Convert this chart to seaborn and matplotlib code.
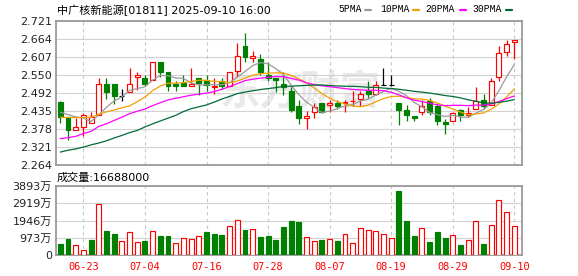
import numpy as np
import pandas as pd
import matplotlib
matplotlib.use("Agg")
import matplotlib.pyplot as plt
import seaborn as sns
from matplotlib.lines import Line2D

# ---------------- data ----------------
title = "中广核新能源[01811] 2025-09-10 16:00"
dates = [d for d in pd.bdate_range("2025-06-18", "2025-09-10")
         if d != pd.Timestamp("2025-07-01")]

opens = [2.464, 2.416, 2.375, 2.384, 2.397, 2.422, 2.521, 2.521, 2.485, 2.497,
         2.543, 2.541, 2.534, 2.591, 2.559, 2.522, 2.524, 2.514, 2.542, 2.530,
         2.513, 2.530, 2.516, 2.562, 2.642, 2.603, 2.601, 2.550, 2.542, 2.522,
         2.500, 2.453, 2.412, 2.432, 2.461, 2.455, 2.462, 2.461, 2.466, 2.473,
         2.500, 2.491, 2.520, 2.520, 2.461, 2.440, 2.421, 2.432, 2.468, 2.453,
         2.402, 2.403, 2.438, 2.422, 2.442, 2.470, 2.454, 2.543, 2.623, 2.654]
highs = [2.466, 2.416, 2.413, 2.429, 2.433, 2.540, 2.540, 2.521, 2.506, 2.572,
         2.559, 2.551, 2.591, 2.591, 2.559, 2.531, 2.550, 2.573, 2.542, 2.549,
         2.542, 2.541, 2.559, 2.652, 2.684, 2.625, 2.616, 2.590, 2.542, 2.560,
         2.512, 2.472, 2.437, 2.461, 2.461, 2.472, 2.472, 2.470, 2.499, 2.500,
         2.531, 2.531, 2.572, 2.551, 2.461, 2.454, 2.421, 2.470, 2.477, 2.461,
         2.411, 2.432, 2.443, 2.449, 2.513, 2.489, 2.540, 2.643, 2.662, 2.661]
lows = [2.397, 2.344, 2.375, 2.355, 2.397, 2.422, 2.475, 2.457, 2.467, 2.497,
        2.503, 2.514, 2.534, 2.545, 2.500, 2.500, 2.514, 2.514, 2.487, 2.500,
        2.490, 2.507, 2.516, 2.544, 2.593, 2.593, 2.549, 2.530, 2.495, 2.488,
        2.432, 2.393, 2.380, 2.412, 2.428, 2.432, 2.441, 2.432, 2.453, 2.452,
        2.477, 2.487, 2.520, 2.514, 2.392, 2.403, 2.403, 2.422, 2.422, 2.392,
        2.362, 2.403, 2.405, 2.417, 2.442, 2.443, 2.454, 2.532, 2.612, 2.602]
closes = [2.416, 2.374, 2.384, 2.422, 2.416, 2.521, 2.495, 2.485, 2.485, 2.521,
          2.550, 2.523, 2.591, 2.561, 2.514, 2.515, 2.515, 2.521, 2.526, 2.518,
          2.516, 2.514, 2.559, 2.610, 2.608, 2.610, 2.561, 2.541, 2.533, 2.513,
          2.440, 2.412, 2.421, 2.450, 2.432, 2.462, 2.453, 2.464, 2.469, 2.489,
          2.491, 2.520, 2.520, 2.520, 2.440, 2.422, 2.412, 2.451, 2.432, 2.403,
          2.394, 2.429, 2.424, 2.428, 2.469, 2.453, 2.532, 2.619, 2.650, 2.661]
volumes = [621, 941, 602, 320, 846, 2878, 1354, 1223, 828, 1336,
           771, 790, 1392, 1072, 1072, 715, 997, 903, 1110, 1298,
           1223, 1129, 1674, 1975, 1411, 1467, 1016, 1072, 865, 1580,
           1919, 1862, 1053, 828, 846, 941, 790, 1223, 715, 1561,
           1411, 1354, 1223, 997, 3612, 1919, 1072, 1561, 734, 1298,
           959, 1166, 564, 846, 1919, 621, 1693, 3104, 2426, 1668.8]  # 万

# moving-average values before enough closes are in view
ma5_head = [2.432, 2.424, 2.417, 2.413]
ma10_head = [2.416, 2.415, 2.415, 2.415, 2.416, 2.425, 2.433, 2.439, 2.446]
ma20_head = [2.348, 2.351, 2.355, 2.364, 2.371, 2.387, 2.395, 2.406, 2.416, 2.427,
             2.435, 2.442, 2.453, 2.462, 2.471, 2.476, 2.481, 2.486, 2.489]
ma30_head = [2.305, 2.311, 2.315, 2.321, 2.328, 2.334, 2.341, 2.350, 2.358, 2.367,
             2.374, 2.385, 2.395, 2.404, 2.413, 2.422, 2.434, 2.443, 2.449, 2.455,
             2.464, 2.474, 2.482, 2.491, 2.496, 2.500, 2.504, 2.507, 2.510]

price_ticks = [2.264, 2.321, 2.378, 2.435, 2.492, 2.550, 2.607, 2.664, 2.721]
vol_ticks = [0, 973, 1946, 2919, 3893]
ma_labels = ["5PMA", "10PMA", "20PMA", "30PMA"]
ma_windows = [5, 10, 20, 30]

# ---------------- style ----------------
sns.set_theme(style="white")
plt.rcParams["font.family"] = ["DejaVu Sans", "Noto Sans CJK SC"]
RED = "#ff0000"
GREEN = "#008000"
ma_colors = ["#9a9a9a", "#f2a100", "#ff00ff", "#006b36"]
FRAME = "#9a9a9a"
GRID = "#d2d2d2"

W, H = 578, 276
fig = plt.figure(figsize=(W / 100, H / 100), dpi=100)
fig.patch.set_facecolor("white")


def fx(px):
    return px / W


def fy(py):
    return 1 - py / H


L, R = 56, 522.3
ax = fig.add_axes([fx(L), fy(165), fx(R) - fx(L), fy(21.3) - fy(165)])
axv = fig.add_axes([fx(L), fy(255.3), fx(R) - fx(L), fy(186) - fy(255.3)])

df = pd.DataFrame({"date": dates, "open": opens, "high": highs, "low": lows,
                   "close": closes, "volume": volumes})
df["x"] = np.arange(len(df))
heads = [ma5_head, ma10_head, ma20_head, ma30_head]
for w, head in zip(ma_windows, heads):
    ma = df["close"].rolling(w).mean().to_numpy()
    ma[:len(head)] = head
    df[f"ma{w}"] = ma

prev_close = df["close"].shift(1).fillna(df["open"])
df["vol_up"] = df["close"] >= prev_close

xlim = (-0.56, 60.04)
label_idx = list(range(3, len(df), 8))
bw = 0.64

for a in (ax, axv):
    a.set_xlim(*xlim)
    a.set_facecolor("white")
    a.set_xticks(label_idx)
    a.grid(axis="y", color=GRID, lw=0.8, ls="-", zorder=0)
    a.grid(axis="x", color="#c8c8c8", lw=0.8, ls=(0, (3, 3)), zorder=0)
    a.set_axisbelow(True)
    for s in a.spines.values():
        s.set_color(FRAME)
        s.set_linewidth(1.3)
        s.set_visible(True)

# watermark
ax.text((300 - L) / (R - L), (165 - 93) / (165 - 21.3), "东方财富",
        transform=ax.transAxes, ha="center", va="center", fontsize=29,
        fontweight="bold", color="#e9e9e9", style="italic",
        family=["Noto Sans CJK SC"], zorder=0.5)

# ---------------- candles ----------------
for _, r in df.iterrows():
    if r["close"] > r["open"]:
        ec, fc = RED, "white"
    elif r["close"] < r["open"]:
        ec, fc = GREEN, GREEN
    else:
        ec, fc = "black", "black"
    ax.vlines(r["x"], r["low"], r["high"], color=ec, lw=0.9, zorder=2)
    lo, hi = sorted([r["open"], r["close"]])
    ax.bar(r["x"], hi - lo, bottom=lo, width=bw, facecolor=fc, edgecolor=ec,
           linewidth=0.85, zorder=3)

for w, c in zip(ma_windows, ma_colors):
    sns.lineplot(data=df, x="x", y=f"ma{w}", ax=ax, color=c, linewidth=0.9,
                 legend=False, zorder=4)

ax.set_ylim(price_ticks[0], price_ticks[-1])
ax.set_yticks(price_ticks)
ax.set_yticklabels([f"{v:.3f}" for v in price_ticks])
ax.tick_params(axis="y", length=0, pad=3, labelsize=8, labelcolor="#222222")
ax.tick_params(axis="x", length=0, labelbottom=False)
ax.set_xlabel("")
ax.set_ylabel("")

# ---------------- volume ----------------
for _, r in df.iterrows():
    if r["vol_up"]:
        ec, fc = RED, "white"
    else:
        ec, fc = GREEN, GREEN
    axv.bar(r["x"], r["volume"], width=bw, facecolor=fc, edgecolor=ec,
            linewidth=0.85, zorder=3)

axv.set_ylim(vol_ticks[0], vol_ticks[-1])
axv.set_yticks(vol_ticks)
axv.set_yticklabels(["0" if v == 0 else f"{v}万" for v in vol_ticks])
axv.tick_params(axis="y", length=0, pad=3, labelsize=8, labelcolor="#222222")
axv.set_xticklabels([df["date"].iloc[i].strftime("%m-%d") for i in label_idx],
                    family="DejaVu Sans Mono", fontsize=7.4, color=RED)
axv.tick_params(axis="x", length=0, pad=5)
axv.set_xlabel("")
axv.set_ylabel("")

# ---------------- texts ----------------
fig.text(fx(57), fy(10), title, fontsize=8, va="center", ha="left",
         color="black")
fig.text(fx(57), fy(177.5), f"成交量:{int(round(volumes[-1] * 10000))}",
         fontsize=8, va="center", ha="left", color="black")

leg_text_x = [338.3, 380.0, 425.7, 472.3]
leg_dash_x = [365.0, 412.7, 460.0, 505.7]
for lab, c, tx, dx in zip(ma_labels, ma_colors, leg_text_x, leg_dash_x):
    fig.text(fx(tx), fy(9.5), lab, fontsize=7, family="Liberation Mono",
             va="center", ha="left", color="black")
    fig.add_artist(Line2D([fx(dx), fx(dx + 5.8)], [fy(9.5), fy(9.5)],
                          transform=fig.transFigure, color=c, lw=1.6))

fig.savefig("out.png", dpi=100, facecolor="white")
